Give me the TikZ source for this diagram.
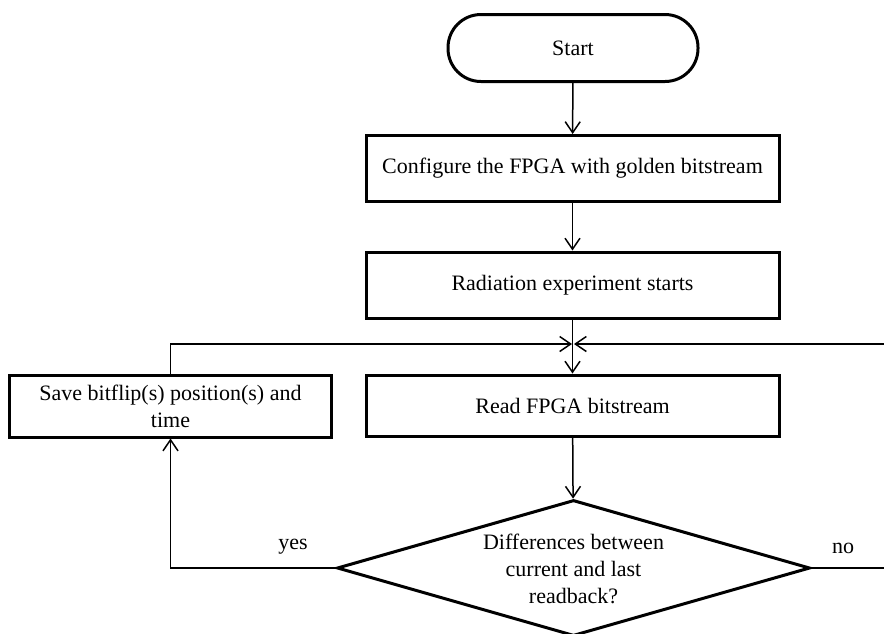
\documentclass[tikz,border=0pt]{standalone}
\usepackage{fontspec}
\setmainfont{Liberation Serif}
\usetikzlibrary{arrows.meta,shapes.geometric}

\tikzset{
  procbox/.style={draw, line width=3pt, rectangle, minimum width=413pt,
    minimum height=66pt, inner sep=0pt, align=center},
  terminal/.style={draw, line width=3pt, rectangle, rounded corners=33pt,
    minimum width=250pt, minimum height=67pt, inner sep=0pt},
  decision/.style={draw, line width=3pt, diamond, minimum width=473pt,
    minimum height=136pt, inner sep=0pt},
  flow/.style={line width=1.5pt, -{Straight Barb[length=11pt,width=15pt,line width=1.5pt]}},
  lbl/.style={font=\fontsize{22}{27}\selectfont}
}

\begin{document}
\begin{tikzpicture}[x=1pt,y=-1pt,font=\fontsize{22}{27}\selectfont]
  \useasboundingbox (0,0) rectangle (884,633);
  \clip (0,0) rectangle (884,633);

  % main column
  \node[terminal] (start) at (573,48) {Start};
  \node[procbox] (config) at (572.5,168.5) {Configure the FPGA with golden bitstream};
  \node[procbox] (rad) at (572.5,285) {Radiation experiment starts};
  \node[procbox, minimum height=61pt] (read) at (572.5,405.5) {Read FPGA bitstream};
  \node[decision] (dec) at (573.5,568) {};
  \node[align=center, inner sep=0pt] (dectext) at (573.5,569)
    {Differences between\\current and last\\readback?};

  % side box for detected upsets
  \node[procbox, minimum width=322pt, minimum height=62pt] (save) at (170.5,406)
    {Save bitflip(s) position(s) and\\time};

  % loop junction and corners
  \coordinate (join) at (573,344);
  \coordinate (saveup) at (save.north |- join);
  \coordinate (yescorner) at (save.south |- dec.west);
  \coordinate (nocorner) at (892,568);
  \coordinate (notop) at (892,344);

  \draw[flow] (start) -- (config);
  \draw[flow] (config) -- (rad);
  \draw[flow] (rad) -- (read);
  \draw[flow] (read) -- (dec);

  % yes branch
  \draw[flow] (dec.west) -- (yescorner) -- (save.south);
  \draw[flow] (save.north) -- (saveup) -- ([xshift=-1pt]join);

  % no branch
  \draw[flow] (dec.east) -- (nocorner) -- (notop) -- ([xshift=1pt]join);

  \node[lbl] (yes) at (293,547) {yes};
  \node[lbl] (no) at (843,548) {no};
\end{tikzpicture}
\end{document}
